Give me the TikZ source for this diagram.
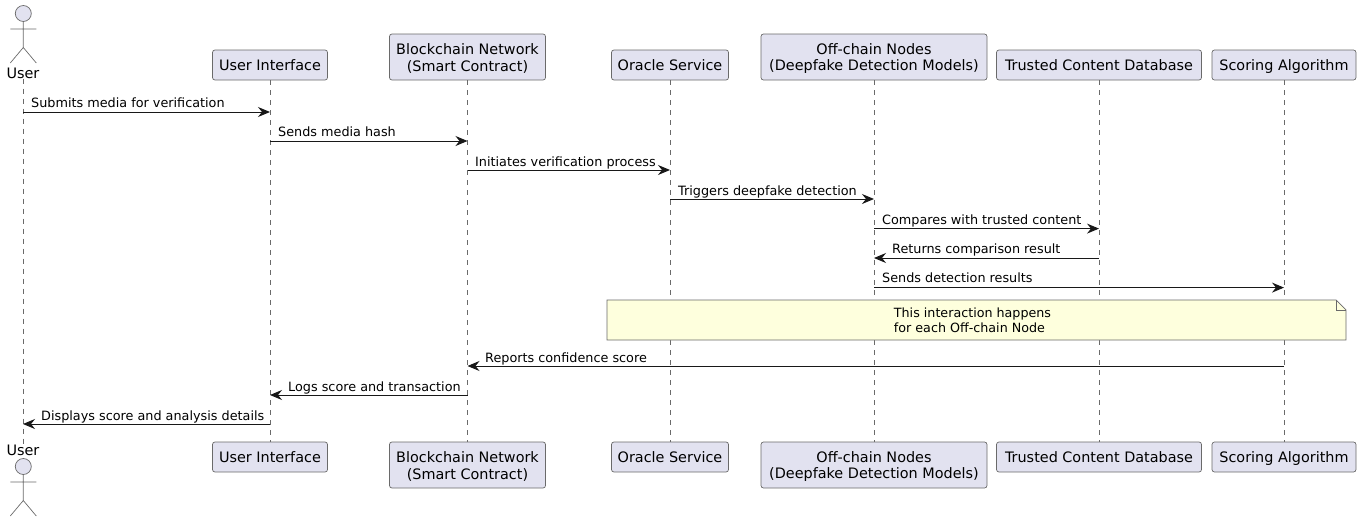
\documentclass[tikz,border=0pt]{standalone}
\usepackage{fontspec}
\setmainfont{DejaVu Sans}
\usetikzlibrary{arrows.meta}
\definecolor{partfill}{HTML}{E2E2F0}
\definecolor{partline}{HTML}{181818}
\definecolor{thinline}{HTML}{6A6A6A}
\definecolor{notefill}{HTML}{FEFFDD}
\newcommand{\firstline}{\rule{0pt}{13.5pt}}
\begin{document}
\begin{tikzpicture}[x=1pt,y=-1pt,
	part/.style={draw=thinline,fill=partfill,line width=0.7pt,rounded corners=2.5pt,align=center,font=\fontsize{14.4}{16.5}\selectfont,inner sep=0pt,minimum height=30pt,text height=10.6pt,text depth=0pt},
	tallpart/.style={draw=thinline,fill=partfill,line width=0.7pt,rounded corners=2.5pt,align=center,font=\fontsize{14.4}{16.5}\selectfont,inner sep=0pt,minimum height=46pt},
	actorname/.style={inner sep=0pt,font=\fontsize{14.4}{16.5}\selectfont},
	actorline/.style={draw=thinline,line width=0.7pt},
	life/.style={draw=thinline,line width=0.6pt,dash pattern=on 5pt off 5pt},
	msg/.style={draw=partline,line width=1pt,-{Stealth[length=12pt,width=10pt,inset=4pt]}},
	msgtext/.style={anchor=base west,inner sep=0pt,font=\fontsize{12.8}{15}\selectfont},
	pics/actor/.style={code={
		\draw[actorline,fill=partfill] (0,0) circle (8);
		\draw[actorline] (0,8) -- (0,34) (-13,15.5) -- (13,15.5) (-13,49.5) -- (0,34) -- (13,49.5);
	}}]
	\useasboundingbox (0,0) rectangle (1361,522);
	% top row
	\node[actorname] (usertop) at (23,73) {User};
	\node[part,minimum width=115pt] (uitop) at (270,65) {User Interface};
	\node[tallpart,minimum width=156pt] (chaintop) at (467.5,57) {\firstline Blockchain Network\\(Smart Contract)};
	\node[part,minimum width=117pt] (oracletop) at (670,65) {Oracle Service};
	\node[tallpart,minimum width=226pt] (nodestop) at (874,57) {\firstline Off-chain Nodes\\(Deepfake Detection Models)};
	\node[part,minimum width=205pt] (dbtop) at (1099,65) {Trusted Content Database};
	\node[part,minimum width=144pt] (scoretop) at (1284,65) {Scoring Algorithm};
	% bottom row
	\node[actorname] (userbot) at (23,450) {User};
	\node[part,minimum width=115pt] (uibot) at (270,457) {User Interface};
	\node[tallpart,minimum width=156pt] (chainbot) at (467.5,465) {\firstline Blockchain Network\\(Smart Contract)};
	\node[part,minimum width=117pt] (oraclebot) at (670,457) {Oracle Service};
	\node[tallpart,minimum width=226pt] (nodesbot) at (874,465) {\firstline Off-chain Nodes\\(Deepfake Detection Models)};
	\node[part,minimum width=205pt] (dbbot) at (1099,457) {Trusted Content Database};
	\node[part,minimum width=144pt] (scorebot) at (1284,457) {Scoring Algorithm};
	\pic at (23.3,13.5) {actor};
	\pic at (23.3,466.5) {actor};
	% lifelines
	\foreach \who in {user,ui,chain,oracle,nodes,db,score}
		\draw[life] (\who top.south) -- (\who bot.north);
	% note sits over the lifelines
	\coordinate (noteTL) at (607,300);
	\coordinate (noteBR) at (1346,340);
	\draw[draw=thinline,fill=notefill,line width=0.7pt] (noteTL) -- (1336,300) -- (noteBR |- 0,310) -- (noteBR) -- (noteTL |- noteBR) -- cycle;
	\draw[draw=thinline,line width=0.7pt] (1336,300) -- (1336,310) -- (1346,310);
	\node[align=left,inner sep=0pt,font=\fontsize{12.7}{15.2}\selectfont] (note) at (972.5,320) {This interaction happens\\for each Off-chain Node};
	% messages
	\foreach \i/\y in {1/112,2/141,3/170,4/199,5/228.6,6/258,7/287.6,8/366,9/395,10/424}
		\coordinate (m\i) at (0,\y);
	\draw[msg] (usertop.south |- m1) -- (uitop.south |- m1);
	\draw[msg] (uitop.south |- m2) -- (chaintop.south |- m2);
	\draw[msg] (chaintop.south |- m3) -- (oracletop.south |- m3);
	\draw[msg] (oracletop.south |- m4) -- (nodestop.south |- m4);
	\draw[msg] (nodestop.south |- m5) -- (dbtop.south |- m5);
	\draw[msg] (dbtop.south |- m6) -- (nodestop.south |- m6);
	\draw[msg] (nodestop.south |- m7) -- (scoretop.south |- m7);
	\draw[msg] (scoretop.south |- m8) -- (chaintop.south |- m8);
	\draw[msg] (chaintop.south |- m9) -- (uitop.south |- m9);
	\draw[msg] (uitop.south |- m10) -- (usertop.south |- m10);
	\node[msgtext] (t1) at (31,107) {Submits media for verification};
	\node[msgtext] (t2) at (278,136) {Sends media hash};
	\node[msgtext] (t3) at (475,166) {Initiates verification process};
	\node[msgtext] (t4) at (678,195) {Triggers deepfake detection};
	\node[msgtext] (t5) at (882,224) {Compares with trusted content};
	\node[msgtext] (t6) at (892,253) {Returns comparison result};
	\node[msgtext] (t7) at (882,282.5) {Sends detection results};
	\node[msgtext] (t8) at (485,362) {Reports confidence score};
	\node[msgtext] (t9) at (288,391) {Logs score and transaction};
	\node[msgtext] (t10) at (41,420) {Displays score and analysis details};
\end{tikzpicture}
\end{document}
